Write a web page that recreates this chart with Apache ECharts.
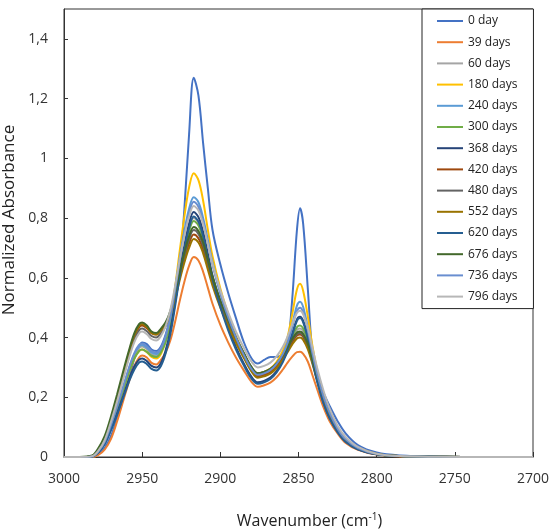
<!DOCTYPE html>
<html><head><meta charset="utf-8">
<script src="https://cdn.jsdelivr.net/npm/echarts@6/dist/echarts.min.js"></script>
<style>html,body{margin:0;padding:0;background:#fff}#c{width:554px;height:532px}</style>
</head><body><div id="c"></div>
<script>
// wavenumber grid (cm-1)
const wavenumbers = [3000,2990,2982,2978,2974,2970,2966,2962,2958,2955,2952,2950,2947,2944,2941,2938,2935,2932,2929,2926,2923,2920,2917,2914,2911,2908,2905,2900,2895,2890,2885,2880,2876,2872,2868,2864,2860,2857,2854,2851,2849,2847,2844,2841,2838,2834,2830,2825,2820,2812,2800,2785,2760,2730,2700];

const day0   = [0,0,.001,.01,.03,.07,.13,.20,.27,.33,.37,.383,.378,.36,.355, .37,.41,.47,.545,.63,.83,1.08,1.27,1.21,1.05,.90,.76,.645,.55,.465,.385,.33,.313, .325,.335,.335,.345,.37,.53,.76,.833,.78,.56,.34,.265,.215,.17,.12,.08,.04,.015,.005,.001,0,0];
const day39  = [0,0,0,.007,.025,.06,.12,.19,.26,.305,.333,.34,.333,.315,.31, .325,.35,.39,.451,.522,.587,.64,.67,.658,.62,.567,.513,.442,.384,.333,.29,.251,.235, .24,.249,.267,.293,.316,.336,.351,.352,.345,.319,.273,.226,.166,.119,.079,.048,.024,.008,.002,0,0,0];
const day60  = [0,0,.002,.019,.049,.103,.164,.231,.298,.339,.365,.37,.361,.344,.34, .355,.389,.446,.526,.617,.698,.765,.80,.785,.739,.673,.606,.519,.447,.385,.333,.288,.27, .275,.285,.304,.334,.363,.397,.426,.43,.42,.382,.324,.265,.196,.142,.093,.058,.029,.01,.003,.001,0,0];
const day180 = [0,0,.002,.018,.048,.10,.16,.225,.29,.33,.355,.36,.351,.335,.33, .345,.389,.46,.566,.689,.805,.902,.95,.927,.858,.761,.672,.564,.479,.406,.346,.298,.28, .285,.296,.319,.356,.402,.478,.561,.58,.556,.469,.369,.288,.208,.149,.097,.062,.031,.01,.003,.001,0,0];
const day240 = [0,0,.002,.019,.05,.104,.167,.234,.302,.344,.37,.375,.366,.35,.345, .36,.401,.466,.56,.665,.757,.831,.87,.853,.80,.726,.651,.551,.469,.398,.338,.29,.27, .275,.286,.307,.342,.382,.443,.507,.52,.502,.432,.346,.274,.198,.142,.093,.059,.029,.01,.003,.001,0,0];
const day300 = [0,0,.002,.018,.048,.10,.16,.225,.29,.33,.355,.36,.352,.339,.335, .35,.385,.44,.52,.61,.69,.755,.79,.775,.73,.665,.60,.515,.445,.385,.335,.292,.275, .28,.29,.31,.34,.37,.405,.435,.44,.43,.39,.33,.27,.20,.145,.095,.06,.03,.01,.003,.001,0,0];
const day368 = [0,0,.002,.016,.044,.092,.147,.206,.266,.303,.326,.33,.321,.305,.30, .315,.357,.422,.515,.618,.709,.782,.82,.803,.753,.68,.607,.513,.434,.368,.313,.268,.25, .255,.266,.288,.323,.362,.413,.461,.47,.456,.401,.324,.255,.183,.13,.085,.053,.026,.009,.003,.001,0,0];
const day420 = [0,0,.003,.022,.059,.122,.196,.275,.354,.403,.434,.44,.431,.415,.41, .425,.445,.479,.535,.602,.663,.715,.745,.732,.695,.64,.585,.509,.446,.388,.338,.291,.27, .275,.284,.303,.331,.357,.385,.407,.41,.402,.369,.316,.262,.195,.142,.093,.059,.029,.01,.003,.001,0,0];
const day480 = [0,0,.003,.021,.057,.119,.191,.269,.346,.394,.424,.43,.421,.405,.40, .415,.438,.477,.538,.61,.674,.729,.76,.747,.708,.652,.594,.517,.453,.395,.346,.30,.28, .285,.294,.313,.34,.366,.392,.412,.415,.407,.376,.325,.27,.203,.148,.097,.062,.031,.01,.003,.001,0,0];
const day552 = [0,0,.003,.022,.059,.124,.198,.278,.358,.408,.439,.445,.435,.415,.41, .425,.443,.475,.527,.592,.651,.70,.73,.718,.682,.628,.574,.50,.439,.382,.333,.286,.265, .27,.279,.298,.326,.351,.377,.397,.40,.392,.36,.31,.256,.19,.139,.091,.057,.029,.01,.003,.001,0,0];
const day620 = [0,0,.002,.016,.043,.089,.142,.20,.258,.293,.316,.32,.311,.295,.29, .305,.347,.411,.503,.605,.695,.767,.805,.788,.739,.667,.595,.502,.425,.36,.307,.262,.245, .25,.261,.283,.318,.357,.408,.456,.465,.451,.396,.319,.251,.179,.128,.083,.051,.026,.009,.003,.001,0,0];
const day676 = [0,0,.005,.03,.07,.135,.21,.29,.365,.415,.445,.45,.44,.42,.415, .43,.451,.489,.549,.62,.685,.739,.77,.757,.718,.661,.603,.525,.459,.40,.349,.301,.28, .285,.295,.313,.341,.368,.395,.417,.42,.412,.379,.326,.271,.203,.148,.097,.062,.031,.01,.003,.001,0,0];
const day736 = [0,0,.002,.019,.051,.106,.169,.238,.306,.348,.375,.38,.371,.355,.35, .365,.404,.466,.556,.656,.745,.817,.855,.838,.788,.716,.643,.547,.468,.40,.342,.294,.275, .28,.291,.312,.345,.382,.435,.489,.50,.484,.423,.345,.276,.202,.146,.095,.06,.03,.01,.003,.001,0,0];
const day796 = [0,0,.003,.021,.056,.117,.187,.263,.338,.385,.414,.42,.411,.395,.39, .405,.438,.492,.57,.66,.74,.805,.84,.825,.779,.713,.646,.558,.484,.42,.366,.319,.30, .305,.316,.337,.369,.403,.445,.483,.49,.478,.431,.364,.297,.222,.161,.105,.068,.034,.011,.003,.001,0,0];

const seriesNames = ['0 day','39 days','60 days','180 days','240 days','300 days','368 days','420 days','480 days','552 days','620 days','676 days','736 days','796 days'];
const seriesColors = ['#4472C4','#ED7D31','#A5A5A5','#FFC000','#5B9BD5','#70AD47','#264478','#9E480E','#636363','#997300','#255E91','#43682B','#698ED0','#B7B7B7'];
const seriesValues = [day0,day39,day60,day180,day240,day300,day368,day420,day480,day552,day620,day676,day736,day796];

const FONT = 'Open Sans';
const chart = echarts.init(document.getElementById('c'));
chart.setOption({
  animation: false,
  backgroundColor: '#fff',
  grid: { left: 64, right: 21, top: 9, bottom: 75, show: true, borderColor: '#333', borderWidth: 1,
          containLabel: false, outerBoundsMode: 'none' },
  xAxis: {
    type: 'value', min: 2700, max: 3000, interval: 50, inverse: true,
    name: 'Wavenumber (cm{sup|-1})', nameLocation: 'middle', nameGap: 55,
    nameTextStyle: { fontFamily: FONT, fontSize: 16, color: '#222', padding: [0,0,0,22],
      rich: { sup: { fontFamily: FONT, fontSize: 10, color: '#222', verticalAlign: 'top', padding: [0,0,8,0] } } },
    axisLine: { show: true, lineStyle: { color: '#333', width: 1 } },
    axisTick: { show: true, inside: true, length: 5, lineStyle: { color: '#333' } },
    axisLabel: { fontFamily: FONT, fontSize: 14, color: '#333', margin: 15, formatter: v => String(v) },
    splitLine: { show: false }
  },
  yAxis: {
    type: 'value', min: 0, max: 1.5, interval: 0.2,
    name: 'Normalized Absorbance', nameLocation: 'middle', nameGap: 36,
    nameTextStyle: { fontFamily: FONT, fontSize: 17, color: '#222', padding: [0,0,0,26] },
    axisLine: { show: true, lineStyle: { color: '#333', width: 1 } },
    axisTick: { show: true, inside: true, length: 4, lineStyle: { color: '#333' } },
    axisLabel: { fontFamily: FONT, fontSize: 14, color: '#333', margin: 16, showMaxLabel: false,
      formatter: v => (v > 1.45 ? '' : String(Number(v.toFixed(1))).replace('.', ',')) },
    splitLine: { show: false }
  },
  legend: {
    data: seriesNames, orient: 'vertical', left: 422, top: 9,
    itemWidth: 26, itemHeight: 14, itemGap: 9.2,
    itemStyle: { opacity: 0 },
    padding: [6, 16, 6, 14], borderColor: '#222', borderWidth: 1, backgroundColor: '#fff',
    textStyle: { fontFamily: FONT, fontSize: 12, color: '#222' }
  },
  series: seriesValues.map((vals, i) => ({
    name: seriesNames[i], type: 'line', symbol: 'none', smooth: 0.35,
    data: wavenumbers.map((w, j) => [w, vals[j]]),
    lineStyle: { width: 2, color: seriesColors[i] },
    itemStyle: { color: seriesColors[i] }
  }))
});
</script>
</body></html>
